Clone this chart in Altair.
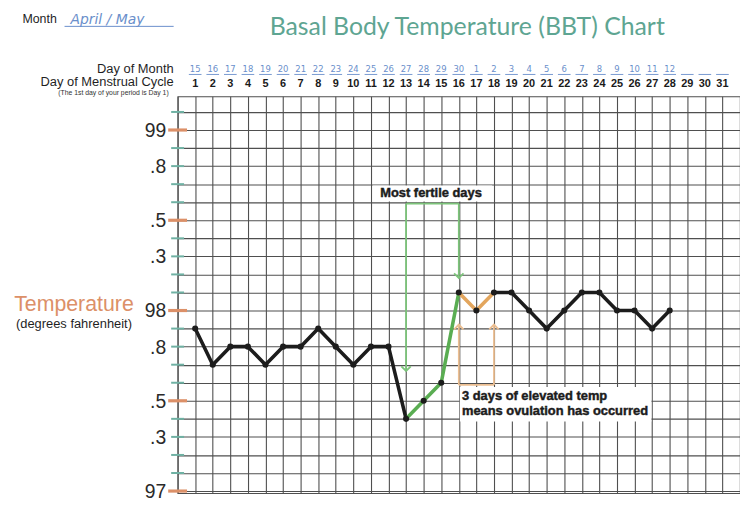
import altair as alt
import pandas as pd

# ---------------- data ----------------
days = list(range(1, 29))
temps = [97.9, 97.7, 97.8, 97.8, 97.7, 97.8, 97.8, 97.9, 97.8, 97.7, 97.8, 97.8,
         97.4, 97.5, 97.6, 98.1, 98.0, 98.1, 98.1, 98.0, 97.9, 98.0, 98.1, 98.1,
         98.0, 98.0, 97.9, 98.0]

cycle_days = list(range(1, 32))
month_days = ["15", "16", "17", "18", "19", "20", "21", "22", "23", "24", "25", "26", "27", "28",
              "29", "30", "1", "2", "3", "4", "5", "6", "7", "8", "9", "10", "11", "12",
              "", "", ""]

grid_temps = [97.0, 97.1, 97.2, 97.3, 97.4, 97.5, 97.6, 97.7, 97.8, 97.9, 98.0,
              98.1, 98.2, 98.3, 98.4, 98.5, 98.6, 98.7, 98.8, 98.9, 99.0, 99.1]
major_ticks = [97.0, 97.5, 98.0, 98.5, 99.0]
label_vals = [99.0, 98.8, 98.5, 98.3, 98.0, 97.8, 97.5, 97.3, 97.0]
label_txt = ["99", ".8", ".5", ".3", "98", ".8", ".5", ".3", "97"]

fertile_days = [13, 16]
fertile_tips = [97.665, 98.18]
fertile_top = 98.592
ovul_days = [16, 18]
ovul_tip = 97.922
ovul_base = 97.588

# ---------------- styles ----------------
GRID = "#4f4f4f"
BLACK = "#1c1c1c"
GREEN = "#5aad52"
ORANGE = "#e3a65e"
ARROW_GREEN = "#7cc47a"
ARROW_ORANGE = "#ecbf92"
TICK_ORANGE = "#dc9068"
TICK_TEAL = "#6fb1a3"
TEAL_TITLE = "#5ea592"
BLUE = "#6a8fcb"
FONT = "Liberation Sans"

W, H = 567, 400
xs = alt.Scale(domain=[0, 32], nice=False, zero=False)
ys = alt.Scale(domain=[96.989, 99.1868], nice=False, zero=False)


def X(f, **kw):
    return alt.X(f, type="quantitative", scale=xs, axis=None, **kw)


def Y(f, **kw):
    return alt.Y(f, type="quantitative", scale=ys, axis=None, **kw)


pts = pd.DataFrame({"day": days, "temp": temps})
one = pd.DataFrame({"a": [0]})

seg_rows = []
for i in range(len(days) - 1):
    d = days[i]
    if 13 <= d <= 15:
        c = GREEN
    elif 16 <= d <= 17:
        c = ORANGE
    else:
        c = BLACK
    seg_rows.append({"x": d, "x2": days[i + 1], "y": temps[i], "y2": temps[i + 1], "c": c,
                     "o": 0 if c == BLACK else 1})
segs = pd.DataFrame(seg_rows)

# grid layer (axes give the gridlines)
grid = alt.Chart(pts).mark_point(opacity=0).encode(
    x=alt.X("day:Q", scale=xs, axis=alt.Axis(values=list(range(0, 33)), grid=True, gridColor=GRID,
                                              gridWidth=1.1, gridOpacity=1, domain=False, ticks=False,
                                              labels=False, title=None)),
    y=alt.Y("temp:Q", scale=ys, axis=alt.Axis(values=grid_temps, grid=True, gridColor=GRID,
                                               gridWidth=1.1, gridOpacity=1, domain=False, ticks=False,
                                               labels=False, title=None)),
)

# white boxes behind annotation texts
boxes = pd.DataFrame({"x": [11.1, 16.06], "x2": [17.9, 26.96],
                      "y": [98.692, 97.577], "y2": [98.604, 97.385]})
box_layer = alt.Chart(boxes).mark_rect(fill="white", stroke=None).encode(
    x=X("x"), x2="x2", y=Y("y"), y2="y2")

# green arrows
g_vert = pd.DataFrame({"x": fertile_days, "y": [fertile_top] * 2, "y2": fertile_tips})
g_v = alt.Chart(g_vert).mark_rule(color=ARROW_GREEN, strokeWidth=1.8).encode(x=X("x"), y=Y("y"), y2="y2")
g_h = alt.Chart(pd.DataFrame({"x": [fertile_days[0]], "x2": [fertile_days[1]], "y": [fertile_top]})).mark_rule(
    color=ARROW_GREEN, strokeWidth=1.8).encode(x=X("x"), x2="x2", y=Y("y"))
g_head = alt.Chart(pd.DataFrame({"x": fertile_days, "y": fertile_tips})).mark_point(
    shape="M-1,-1L0,0L1,-1", filled=False, color=ARROW_GREEN, strokeWidth=1.8, size=90, opacity=1
).encode(x=X("x"), y=Y("y"))

# orange arrows
o_vert = pd.DataFrame({"x": ovul_days, "y": [ovul_base] * 2, "y2": [ovul_tip] * 2})
o_v = alt.Chart(o_vert).mark_rule(color=ARROW_ORANGE, strokeWidth=1.8).encode(x=X("x"), y=Y("y"), y2="y2")
o_h = alt.Chart(pd.DataFrame({"x": [ovul_days[0]], "x2": [ovul_days[1]], "y": [ovul_base]})).mark_rule(
    color=ARROW_ORANGE, strokeWidth=1.8).encode(x=X("x"), x2="x2", y=Y("y"))
o_head = alt.Chart(pd.DataFrame({"x": ovul_days, "y": [ovul_tip] * 2})).mark_point(
    shape="M-1,1L0,0L1,1", filled=False, color=ARROW_ORANGE, strokeWidth=1.8, size=90, opacity=1
).encode(x=X("x"), y=Y("y"))

# temperature line
line_black = alt.Chart(segs).transform_filter("datum.o == 0").mark_rule(
    strokeWidth=3.6, strokeCap="round").encode(
    x=X("x"), x2="x2", y=Y("y"), y2="y2", color=alt.Color("c:N", scale=None))
line_col = alt.Chart(segs).transform_filter("datum.o == 1").mark_rule(
    strokeWidth=3.6, strokeCap="round").encode(
    x=X("x"), x2="x2", y=Y("y"), y2="y2", color=alt.Color("c:N", scale=None))
dots = alt.Chart(pts).mark_circle(size=38, color=BLACK, opacity=1).encode(x=X("day"), y=Y("temp"))

# annotation texts
ann1 = alt.Chart(pd.DataFrame({"x": [14.42], "y": [98.628], "t": ["Most fertile days"]})).mark_text(
    font=FONT, fontSize=13, fontWeight="bold", color=BLACK, stroke=BLACK, strokeWidth=0.45,
    align="center", baseline="alphabetic").encode(x=X("x"), y=Y("y"), text="t")
ann2 = alt.Chart(pd.DataFrame({"x": [16.18, 16.18], "y": [97.502, 97.423],
                               "t": ["3 days of elevated temp", "means ovulation has occurred"]})).mark_text(
    font=FONT, fontSize=13, fontWeight="bold", color=BLACK, stroke=BLACK, strokeWidth=0.45,
    align="left", baseline="alphabetic").encode(x=X("x"), y=Y("y"), text="t")

# y ticks and labels
minor_ticks = [v for v in grid_temps if v not in major_ticks]
tick_min = alt.Chart(pd.DataFrame({"v": minor_ticks})).mark_rule(color=TICK_TEAL, strokeWidth=2).encode(
    y=Y("v"), x=alt.value(-6.5), x2=alt.value(6.5))
tick_maj = alt.Chart(pd.DataFrame({"v": major_ticks})).mark_rule(color=TICK_ORANGE, strokeWidth=3.2).encode(
    y=Y("v"), x=alt.value(-9.5), x2=alt.value(9.5))
lab = pd.DataFrame({"v": label_vals, "t": label_txt})
lab["big"] = lab["t"].str.len() == 2
lab_big = alt.Chart(lab).transform_filter("datum.big").mark_text(
    font=FONT, fontSize=19.5, color="#2a2a2a", align="right", baseline="middle", dy=1).encode(
    y=Y("v"), x=alt.value(-11.5), text="t")
lab_small = alt.Chart(lab).transform_filter("!datum.big").mark_text(
    font=FONT, fontSize=12.5, color="#2a2a2a", align="right", baseline="middle", dy=1).encode(
    y=Y("v"), x=alt.value(-7), text="t")

# header: day of month / cycle day
hdr = pd.DataFrame({"day": cycle_days, "m": month_days, "c": [str(d) for d in cycle_days]})
hdr["u1"] = hdr["day"] - 0.36
hdr["u2"] = hdr["day"] + 0.36
month_txt = alt.Chart(hdr).mark_text(font="DejaVu Sans", fontSize=8.5, color=BLUE, align="center",
                                     baseline="alphabetic").encode(x=X("day"), y=alt.value(-24), text="m")
month_ul = alt.Chart(hdr).mark_rule(color=BLUE, strokeWidth=0.9).encode(
    x=X("u1"), x2="u2", y=alt.value(-22))
cycle_txt = alt.Chart(hdr).mark_text(font=FONT, fontSize=11, fontWeight="bold", color="#1a1a1a",
                                     align="center", baseline="alphabetic").encode(
    x=X("day"), y=alt.value(-9), text="c")


def txt(s, x, y, **kw):
    return alt.Chart(one).mark_text(text=s, **kw).encode(x=alt.value(x), y=alt.value(y))


texts = [
    txt("Day of Month", -4, -23.3, font=FONT, fontSize=13, color="#1f1f1f", align="right", baseline="alphabetic"),
    txt("Day of Menstrual Cycle", -4, -10, font=FONT, fontSize=13, color="#1f1f1f", align="right",
        baseline="alphabetic"),
    txt("(The 1st day of your period is Day 1)", -9, -1.8, font=FONT, fontSize=6.9, color="#333333",
        align="right", baseline="alphabetic"),
    txt("Month", -156.5, -74.3, font=FONT, fontSize=12.5, color="#1f1f1f", align="left", baseline="alphabetic"),
    txt("April / May", -108, -72.5, font="DejaVu Sans", fontSize=14, fontStyle="italic", fontWeight=300,
        color=BLUE, align="left", baseline="alphabetic"),
    txt("Basal Body Temperature (BBT) Chart", 292, -62, font="Lato", fontSize=25, fontWeight="normal",
        color=TEAL_TITLE, align="center", baseline="alphabetic"),
    txt("Temperature", -104.5, 216.7, font=FONT, fontSize=21.5, color=TICK_ORANGE, align="center",
        baseline="alphabetic"),
    txt("(degrees fahrenheit)", -104.5, 234, font=FONT, fontSize=13, color="#1f1f1f", align="center",
        baseline="alphabetic"),
]
month_line = alt.Chart(one).mark_rule(color=BLUE, strokeWidth=1).encode(
    x=alt.value(-114), x2=alt.value(-4), y=alt.value(-70.5))

chart = alt.layer(
    grid, box_layer, g_v, g_h, g_head, o_v, o_h, o_head, line_black, line_col, dots,
    ann1, ann2, tick_min, tick_maj, lab_big, lab_small, month_txt, month_ul, cycle_txt,
    month_line, *texts
).resolve_axis(x="independent", y="independent").properties(
    width=W, height=H,
    autosize=alt.AutoSizeParams(type="none"),
    padding={"left": 171, "top": 87, "right": 0, "bottom": 4},
    background="white",
).configure_view(stroke=GRID, strokeWidth=1.1)

chart.save("out.html", embed_options={"renderer": "svg", "actions": False})
